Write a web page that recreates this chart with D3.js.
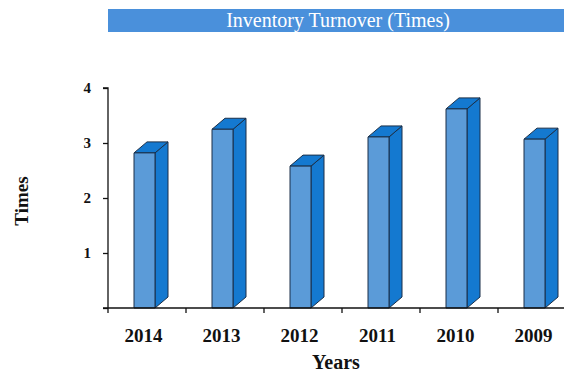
<!DOCTYPE html>
<html>
<head>
<meta charset="utf-8">
<script src="https://cdn.jsdelivr.net/npm/d3@7/dist/d3.min.js"></script>
<style>
  html, body { margin: 0; padding: 0; background: #fff; }
  svg { display: block; }
</style>
</head>
<body>
<svg id="chart" width="564" height="372"></svg>
<script>
// Inventory turnover by year
const years = ["2014", "2013", "2012", "2011", "2010", "2009"];
const turnover = [2.82, 3.25, 2.58, 3.11, 3.62, 3.07];
const yTicks = [1, 2, 3, 4];
const titleText = "Inventory Turnover (Times)";
const xTitle = "Years";
const yTitle = "Times";

const svg = d3.select("#chart");
const W = 564, H = 372;
const plotLeft = 108, plotBase = 308, plotTop = 88;
const serif = "'Liberation Serif', 'Times New Roman', serif";

const x = d3.scaleBand().domain(years).range([plotLeft, plotLeft + 78 * years.length]).padding(0);
const y = d3.scaleLinear().domain([0, 4]).range([plotBase, plotTop]);

// title banner
svg.append("rect").attr("x", 108).attr("y", 9).attr("width", W - 108).attr("height", 23)
  .attr("fill", "#4a90db");
svg.append("text").attr("x", 338).attr("y", 27)
  .attr("text-anchor", "middle").attr("fill", "#fff")
  .attr("font-family", serif).attr("font-size", 20)
  .text(titleText);

// 3D bars: front face, side face, top face
const barW = 21, dx = 13, dy = 11, offset = 26;
const front = "#5b9bd8", dark = "#1479d0", edge = "#1a2f48";
const bars = svg.append("g");
years.forEach((yr, i) => {
  const x0 = x(yr) + offset, x1 = x0 + barW;
  const yt = y(turnover[i]), yb = y(0);
  const g = bars.append("g").attr("stroke", edge).attr("stroke-width", 1).attr("stroke-linejoin", "round");
  g.append("path").attr("fill", dark)
    .attr("d", `M${x1},${yb}L${x1 + dx},${yb - dy}L${x1 + dx},${yt - dy}L${x1},${yt}Z`);
  g.append("path").attr("fill", dark)
    .attr("d", `M${x0},${yt}L${x0 + dx},${yt - dy}L${x1 + dx},${yt - dy}L${x1},${yt}Z`);
  g.append("rect").attr("fill", front)
    .attr("x", x0).attr("y", yt).attr("width", barW).attr("height", yb - yt);
});

// y axis
const yAxis = svg.append("g").attr("transform", `translate(${plotLeft},0)`)
  .call(d3.axisLeft(y).tickValues(yTicks.concat([0])).tickSize(5).tickFormat(d => d === 0 ? "" : d));
yAxis.select(".domain").attr("d", `M-5,${plotTop}H0V${plotBase}`).attr("stroke", "#111").attr("stroke-width", 1.3);
yAxis.selectAll(".tick line").attr("stroke", "#111").attr("stroke-width", 1.3);
yAxis.selectAll(".tick text").attr("font-family", serif).attr("font-size", 15)
  .attr("font-weight", "bold").attr("fill", "#111").attr("x", -17);

// x axis with tick marks between categories
const xAxis = svg.append("g").attr("transform", `translate(0,${plotBase})`);
xAxis.append("line").attr("x1", 103).attr("x2", W).attr("y1", 0).attr("y2", 0)
  .attr("stroke", "#111").attr("stroke-width", 1.3);
xAxis.selectAll("line.tk").data(years).join("line").attr("class", "tk")
  .attr("x1", d => x(d)).attr("x2", d => x(d)).attr("y1", 0).attr("y2", 5)
  .attr("stroke", "#111").attr("stroke-width", 1.3);
xAxis.selectAll("text").data(years).join("text")
  .attr("x", d => x(d) + offset + barW / 2 - 1).attr("y", 34)
  .attr("text-anchor", "middle").attr("font-family", serif).attr("font-size", 19)
  .attr("font-weight", "bold").attr("fill", "#111").text(d => d);

// axis titles
svg.append("text").attr("x", 336).attr("y", 369).attr("text-anchor", "middle")
  .attr("font-family", serif).attr("font-size", 20).attr("font-weight", "bold").attr("fill", "#111")
  .text(xTitle);
svg.append("text").attr("transform", "translate(28,201) rotate(-90)").attr("text-anchor", "middle")
  .attr("font-family", serif).attr("font-size", 19).attr("font-weight", "bold").attr("fill", "#111")
  .text(yTitle);
</script>
</body>
</html>
